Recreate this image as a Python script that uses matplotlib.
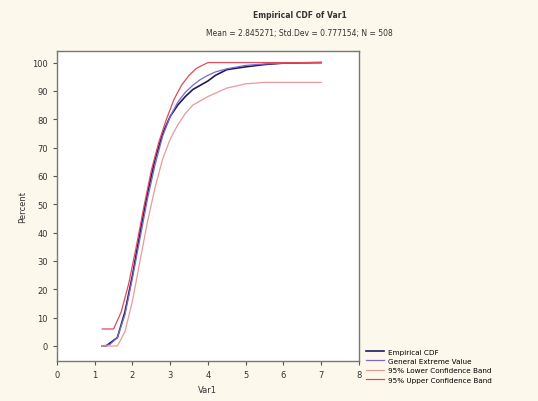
import numpy as np
import matplotlib.pyplot as plt

# Curves (x = Var1, y = percent)
emp_x = [1.2, 1.3, 1.4, 1.6, 1.8, 2.0, 2.2, 2.4, 2.6, 2.8, 3.0, 3.2, 3.4, 3.6, 3.8, 4.0, 4.2, 4.5, 5.0, 5.5, 6.0, 7.0]
emp_y = [0, 0, 1, 3, 12, 25, 40, 54, 66, 75, 81, 85, 88, 90.5, 92, 93.5, 95.5, 97.5, 98.5, 99.3, 99.8, 100]

gev_x = [1.2, 1.4, 1.6, 1.8, 2.0, 2.2, 2.4, 2.6, 2.8, 3.0, 3.2, 3.4, 3.6, 3.8, 4.0, 4.2, 4.5, 5.0, 5.5, 6.0, 7.0]
gev_y = [0, 0.5, 3, 11, 24, 38, 52, 64, 74, 81, 86, 89.5, 92, 94, 95.5, 96.7, 97.8, 99, 99.5, 99.8, 100]

lower_x = [1.2, 1.6, 1.8, 2.0, 2.2, 2.4, 2.6, 2.8, 3.0, 3.2, 3.4, 3.6, 3.8, 4.0, 4.5, 5.0, 5.5, 7.0]
lower_y = [0, 0, 5, 16, 30, 44, 56, 66, 73, 78, 82, 85, 86.5, 88, 91, 92.5, 93, 93]

upper_x = [1.2, 1.5, 1.7, 1.9, 2.1, 2.3, 2.5, 2.7, 2.9, 3.1, 3.3, 3.5, 3.7, 4.0, 5.0, 7.0]
upper_y = [6, 6, 12, 22, 35, 49, 62, 72, 80, 87, 92, 95.5, 98, 100, 100, 100]

labels = ["Empirical CDF", "General Extreme Value",
          "95% Lower Confidence Band", "95% Upper Confidence Band"]

bg = "#fcf8ec"
fig = plt.figure(figsize=(5.38, 4.02), dpi=100, facecolor=bg)
ax = fig.add_axes([0.106, 0.0995, 0.561, 0.772])
ax.set_facecolor("white")

l1, = ax.plot(emp_x, emp_y, color="#1c1c5a", lw=1.2)
l2, = ax.plot(gev_x, gev_y, color="#7a6ad0", lw=0.9)
l3, = ax.plot(lower_x, lower_y, color="#e89a9a", lw=0.9)
l4, = ax.plot(upper_x, upper_y, color="#e04a5a", lw=0.9)

ax.set_xlim(0, 8)
ax.set_ylim(-5.3, 104.2)
ax.set_xticks(range(0, 9))
ax.set_yticks(range(0, 101, 10))
ax.tick_params(labelsize=6, length=3, color="#555555", labelcolor="#333333")
for s in ax.spines.values():
    s.set_color("#777777")
    s.set_linewidth(1.0)

ax.set_xlabel("Var1", fontsize=6, color="#333333")
ax.set_ylabel("Percent", fontsize=6, color="#333333")

fig.text(0.557, 0.972, "Empirical CDF of Var1", ha="center", va="top",
         fontsize=5.5, fontweight="bold", color="#333333")
fig.text(0.557, 0.927, "Mean = 2.845271; Std.Dev = 0.777154; N = 508",
         ha="center", va="top", fontsize=5.5, color="#333333")

fig.legend([l1, l2, l3, l4], labels, loc="lower left",
           bbox_to_anchor=(0.672, 0.035), frameon=False, fontsize=5.2,
           handlelength=2.5, handletextpad=0.6, labelspacing=0.45,
           borderaxespad=0.2)

fig.savefig("out.png", dpi=100, facecolor=bg)
